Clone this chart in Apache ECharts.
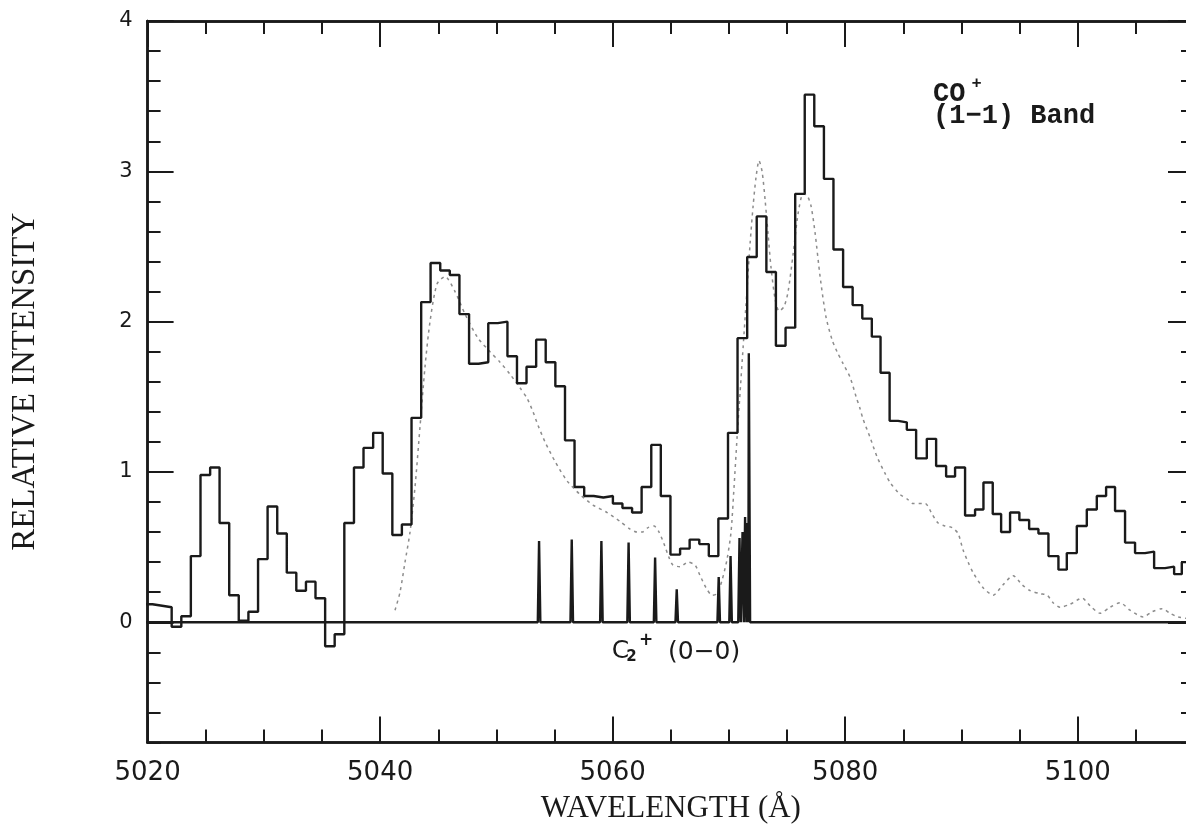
<!DOCTYPE html>
<html>
<head>
<meta charset="utf-8">
<script src="https://cdn.jsdelivr.net/npm/echarts@6/dist/echarts.min.js"></script>
<style>
  html, body { margin: 0; padding: 0; background: #ffffff; }
  #chart { width: 1186px; height: 824px; }
</style>
</head>
<body>
<div id="chart"></div>
<script>
// Observed spectrum, binned: left edge of each bin (Å) and its relative intensity
const binEdges = [
  5019.60, 5020.42, 5021.25, 5022.07, 5022.90, 5023.72, 5024.55, 5025.38, 5026.19, 5027.02,
  5027.84, 5028.67, 5029.50, 5030.32, 5031.15, 5031.97, 5032.79, 5033.62, 5034.44, 5035.27,
  5036.09, 5036.92, 5037.75, 5038.57, 5039.40, 5040.22, 5041.05, 5041.87, 5042.70, 5043.53,
  5044.34, 5045.17, 5045.99, 5046.82, 5047.65, 5048.47, 5049.30, 5050.12, 5050.95, 5051.77,
  5052.59, 5053.42, 5054.24, 5055.07, 5055.90, 5056.72, 5057.55, 5058.37, 5059.20, 5060.02,
  5060.84, 5061.67, 5062.49, 5063.32, 5064.14, 5064.97, 5065.80, 5066.62, 5067.45, 5068.27,
  5069.09, 5069.92, 5070.74, 5071.57, 5072.39, 5073.22, 5074.04, 5074.87, 5075.70, 5076.52,
  5077.34, 5078.17, 5078.99, 5079.82, 5080.64, 5081.47, 5082.29, 5083.04, 5083.82, 5084.55,
  5085.30, 5086.10, 5087.02, 5087.82, 5088.68, 5089.45, 5090.31, 5091.17, 5091.89, 5092.69,
  5093.41, 5094.18, 5094.98, 5095.82, 5096.62, 5097.48, 5098.34, 5099.06, 5099.92, 5100.78,
  5101.64, 5102.44, 5103.21, 5104.07, 5104.93, 5105.79, 5106.57, 5107.51, 5108.29, 5108.95
];
const binValues = [
  0.12, 0.11, 0.10, -0.03, 0.04, 0.44, 0.98, 1.03, 0.66, 0.18,
  0.01, 0.07, 0.42, 0.77, 0.59, 0.33, 0.21, 0.27, 0.16, -0.16,
  -0.08, 0.66, 1.03, 1.16, 1.26, 0.99, 0.58, 0.65, 1.36, 2.13,
  2.39, 2.34, 2.31, 2.05, 1.72, 1.73, 1.99, 2.00, 1.77, 1.59,
  1.70, 1.88, 1.73, 1.57, 1.21, 0.90, 0.84, 0.83, 0.84, 0.79,
  0.76, 0.73, 0.90, 1.18, 0.84, 0.45, 0.49, 0.55, 0.52, 0.44,
  0.69, 1.26, 1.89, 2.43, 2.70, 2.33, 1.84, 1.96, 2.85, 3.51,
  3.30, 2.95, 2.48, 2.23, 2.11, 2.02, 1.90, 1.66, 1.34, 1.33,
  1.28, 1.09, 1.22, 1.04, 0.97, 1.03, 0.71, 0.75, 0.93, 0.72,
  0.60, 0.73, 0.68, 0.62, 0.59, 0.44, 0.35, 0.46, 0.64, 0.75,
  0.84, 0.90, 0.74, 0.53, 0.46, 0.47, 0.36, 0.37, 0.32, 0.40
];
const lastBinEnd = 5110.60;

// Synthetic CO+ (1-1) band profile (dotted curve)
const modelWavelengths = [
  5041.28, 5041.71, 5042.14, 5042.57, 5043.00, 5043.43, 5043.86, 5044.29, 5044.89, 5045.58,
  5046.44, 5047.30, 5048.42, 5049.45, 5050.31, 5051.17, 5052.03, 5052.64, 5053.15, 5053.58,
  5054.18, 5055.04, 5056.08, 5057.19, 5058.31, 5059.52, 5060.64, 5061.50, 5062.10, 5062.53,
  5063.04, 5063.56, 5063.99, 5064.42, 5064.85, 5065.19, 5065.80, 5066.48, 5067.09, 5067.52,
  5068.03, 5068.55, 5068.98, 5069.41, 5069.84, 5070.18, 5070.44, 5070.70, 5070.96, 5071.22,
  5071.56, 5071.82, 5072.08, 5072.33, 5072.59, 5072.85, 5073.11, 5073.37, 5073.62, 5073.97,
  5074.31, 5074.74, 5075.09, 5075.52, 5075.95, 5076.38, 5076.72, 5077.06, 5077.41, 5077.84,
  5078.35, 5078.87, 5079.30, 5079.82, 5080.42, 5080.94, 5081.28, 5081.54, 5082.14, 5082.74,
  5083.43, 5083.86, 5084.72, 5085.33, 5085.84, 5086.87, 5087.47, 5087.99, 5088.59, 5089.19,
  5089.71, 5090.14, 5090.57, 5091.00, 5091.86, 5092.72, 5093.58, 5094.44, 5095.21, 5095.91,
  5096.76, 5097.37, 5097.88, 5098.48, 5099.34, 5100.38, 5101.06, 5101.92, 5102.78, 5103.64,
  5104.50, 5105.63, 5106.40, 5107.26, 5107.94, 5108.63, 5110.01
];
const modelValues = [
  0.08, 0.20, 0.40, 0.60, 0.90, 1.30, 1.70, 2.00, 2.25, 2.30,
  2.20, 2.05, 1.89, 1.80, 1.73, 1.65, 1.56, 1.49, 1.40, 1.31,
  1.20, 1.07, 0.94, 0.85, 0.78, 0.73, 0.67, 0.62, 0.60, 0.60,
  0.63, 0.64, 0.60, 0.52, 0.43, 0.38, 0.37, 0.40, 0.38, 0.31,
  0.23, 0.18, 0.19, 0.28, 0.42, 0.60, 0.90, 1.23, 1.53, 1.83,
  2.22, 2.52, 2.77, 2.96, 3.07, 3.00, 2.81, 2.58, 2.36, 2.15,
  2.07, 2.10, 2.20, 2.45, 2.72, 2.85, 2.84, 2.77, 2.59, 2.30,
  2.03, 1.88, 1.80, 1.72, 1.63, 1.50, 1.42, 1.35, 1.23, 1.10,
  0.99, 0.93, 0.85, 0.82, 0.79, 0.79, 0.72, 0.66, 0.64, 0.63,
  0.59, 0.48, 0.40, 0.33, 0.23, 0.18, 0.25, 0.31, 0.25, 0.21,
  0.19, 0.18, 0.13, 0.10, 0.12, 0.16, 0.11, 0.06, 0.10, 0.13,
  0.08, 0.035, 0.07, 0.09, 0.06, 0.035, 0.02
];

// C2+ (0-0) line positions (Å) and strengths
const c2Lines = [5053.67, 5056.48, 5059.03, 5061.37, 5063.65, 5065.51, 5069.12, 5070.14, 5070.91, 5071.17, 5071.39, 5071.56, 5071.71];
const c2Strengths = [0.54, 0.55, 0.54, 0.53, 0.43, 0.22, 0.30, 0.44, 0.56, 0.60, 0.70, 0.66, 1.79];

// Axis ticks
const xMajorTicks = [5020, 5040, 5060, 5080, 5100];
const yMajorTicks = [0, 1, 2, 3, 4];

const INK = '#1a1a1a';
const X_MIN = 5020, X_MAX = 5110, Y_MIN = -0.8, Y_MAX = 4;

// histogram as a step line: each bin holds its value up to the next edge
const histData = binEdges.map((x, i) => [x, binValues[i]]);
histData.push([lastBinEnd, binValues[binValues.length - 1]]);

const modelData = modelWavelengths.map((x, i) => [x, modelValues[i]]);

// zero line carrying the narrow C2+ emission lines
const LINE_HALF_WIDTH = 0.11;
const c2Data = [[X_MIN - 1, 0]];
c2Lines.forEach((c, i) => {
  c2Data.push([c - LINE_HALF_WIDTH, 0], [c, c2Strengths[i]], [c + LINE_HALF_WIDTH, 0]);
});
c2Data.push([X_MAX + 1, 0]);

const chart = echarts.init(document.getElementById('chart'), null, { renderer: 'canvas' });

const axisLineStyle = { color: INK, width: 2.5 };

function xAxisDef(position, major, withLabels) {
  const ax = {
    type: 'value', position, min: X_MIN, max: X_MAX, interval: 5,
    axisLine: { show: true, onZero: false, lineStyle: axisLineStyle },
    axisTick: { show: true, inside: true, length: major ? 26 : 13, lineStyle: { color: INK, width: 2 } },
    axisLabel: { show: false },
    splitLine: { show: false }
  };
  if (major) ax.axisTick.customValues = xMajorTicks;
  if (withLabels) {
    ax.axisLabel = {
      show: true, customValues: xMajorTicks, margin: 18, color: INK,
      fontFamily: 'DejaVu Sans', fontSize: 26, lineHeight: 26,
      formatter: v => String(Math.round(v))
    };
    ax.name = 'WAVELENGTH (Å)';
    ax.nameLocation = 'middle';
    ax.nameGap = 66;
    ax.nameTextStyle = { fontFamily: 'Liberation Serif', fontSize: 31, color: INK, verticalAlign: 'middle', lineHeight: 31 };
  }
  return ax;
}

function yAxisDef(position, major, withLabels) {
  const ax = {
    type: 'value', position, min: Y_MIN, max: Y_MAX, interval: 0.2,
    axisLine: { show: true, onZero: false, lineStyle: axisLineStyle },
    axisTick: { show: true, inside: true, length: major ? 26 : 13, lineStyle: { color: INK, width: 2 } },
    axisLabel: { show: false },
    splitLine: { show: false }
  };
  if (major) ax.axisTick.customValues = yMajorTicks;
  if (withLabels) {
    ax.axisLabel = {
      show: true, customValues: yMajorTicks, margin: 15, color: INK,
      fontFamily: 'DejaVu Sans', fontSize: 21,
      formatter: v => String(Math.round(v))
    };
    ax.name = 'RELATIVE INTENSITY';
    ax.nameLocation = 'middle';
    ax.nameRotate = 90;
    ax.nameGap = 122;
    ax.nameTextStyle = { fontFamily: 'Liberation Serif', fontSize: 33, color: INK, verticalAlign: 'middle', lineHeight: 33 };
  }
  return ax;
}

chart.setOption({
  animation: false,
  backgroundColor: '#ffffff',
  grid: {
    left: 147.6, top: 21, width: 1046.4, height: 721.5,
    containLabel: false, outerBoundsMode: 'none'
  },
  xAxis: [
    xAxisDef('bottom', false, true),
    xAxisDef('bottom', true, false),
    xAxisDef('top', false, false),
    xAxisDef('top', true, false)
  ],
  yAxis: [
    yAxisDef('left', false, true),
    yAxisDef('left', true, false),
    yAxisDef('right', false, false),
    yAxisDef('right', true, false)
  ],
  series: [
    {
      name: 'model', type: 'line', data: modelData, showSymbol: false, smooth: 0.25,
      clip: true, silent: true, z: 1,
      lineStyle: { color: '#8c8c8c', width: 1.5, type: [3, 4] }
    },
    {
      name: 'C2+', type: 'line', data: c2Data, showSymbol: false, clip: true, silent: true, z: 2,
      lineStyle: { color: INK, width: 2.4 }
    },
    {
      name: 'observed', type: 'line', data: histData, step: 'end', showSymbol: false,
      clip: true, silent: true, z: 3,
      lineStyle: { color: INK, width: 2.4 }
    }
  ]
});

// Band labels, anchored in data coordinates
const labels = [
  { text: 'CO', at: [5087.56, 3.514], family: 'Liberation Mono', size: 27, weight: 'bold', align: 'left' },
  { text: '+', at: [5091.30, 3.584], family: 'Liberation Mono', size: 17, weight: 'bold', align: 'center' },
  { text: '(1\u22121) Band', at: [5087.56, 3.368], family: 'Liberation Mono', size: 27, weight: 'bold', align: 'left' },
  { text: 'C', at: [5059.92, -0.195], family: 'DejaVu Sans', size: 25, weight: 'normal', align: 'left' },
  { text: '2', at: [5061.62, -0.235], family: 'DejaVu Sans', size: 15, weight: 'bold', align: 'center' },
  { text: '+', at: [5062.87, -0.125], family: 'DejaVu Sans', size: 17, weight: 'bold', align: 'center' },
  { text: '(0\u22120)', at: [5064.76, -0.198], family: 'DejaVu Sans', size: 25, weight: 'normal', align: 'left' }
];

chart.setOption({
  graphic: labels.map(l => {
    const p = chart.convertToPixel({ xAxisIndex: 0, yAxisIndex: 0 }, l.at);
    return {
      type: 'text', x: p[0], y: p[1], silent: true, z: 10,
      style: {
        text: l.text, fill: INK, fontFamily: l.family, fontSize: l.size, fontWeight: l.weight,
        align: l.align, verticalAlign: 'middle'
      }
    };
  })
});
</script>
</body>
</html>
